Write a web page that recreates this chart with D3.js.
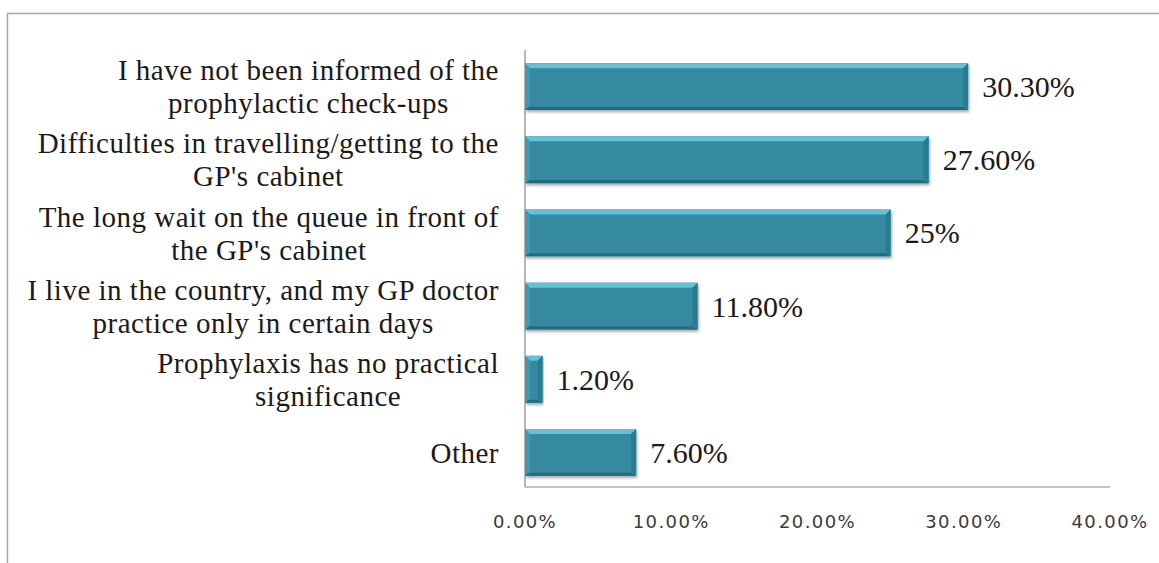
<!DOCTYPE html>
<html>
<head>
<meta charset="utf-8">
<script src="https://cdn.jsdelivr.net/npm/d3@7"></script>
<style>
  body { margin: 0; background: #fff; }
  svg { display: block; }
</style>
</head>
<body>
<svg width="1159" height="563"></svg>
<script>
// reasons for not going to check-ups, top to bottom
var categories = [
    ["I have not been informed of the", "prophylactic check-ups"],
    ["Difficulties in travelling/getting to the", "GP's cabinet"],
    ["The long wait on the queue in front of", "the GP's cabinet"],
    ["I live in the country, and my GP doctor", "practice only in certain days"],
    ["Prophylaxis has no practical", "significance"],
    ["Other"]
];
var values = [30.3, 27.6, 25, 11.8, 1.2, 7.6];
var valueLabels = ["30.30%", "27.60%", "25%", "11.80%", "1.20%", "7.60%"];
var xTicks = [0, 10, 20, 30, 40];

var svg = d3.select("svg");

// outer frame (cut off at right/bottom like the source image)
svg.append("path")
    .attr("d", "M7.5,563 L7.5,13.5 L1159,13.5")
    .attr("fill", "none")
    .attr("stroke", "#a6a6a6")
    .attr("stroke-width", 1.5);

var x = d3.scaleLinear().domain([0, 40]).range([525, 1110]);
var y = d3.scaleBand()
    .domain(d3.range(categories.length))
    .range([50, 489])
    .paddingInner(0.36)
    .paddingOuter(0.18);

var bw = y.bandwidth();

// drop shadow for the bevelled bars
var defs = svg.append("defs");
var f = defs.append("filter").attr("id", "shadow").attr("x", "-5%").attr("y", "-20%").attr("width", "110%").attr("height", "150%");
f.append("feGaussianBlur").attr("in", "SourceAlpha").attr("stdDeviation", 1.5);
f.append("feOffset").attr("dx", 1).attr("dy", 2).attr("result", "b");
f.append("feComponentTransfer").append("feFuncA").attr("type", "linear").attr("slope", 0.35);
var m = f.append("feMerge");
m.append("feMergeNode");
m.append("feMergeNode").attr("in", "SourceGraphic");

var bars = svg.selectAll("g.bar")
    .data(values)
    .enter().append("g")
    .attr("class", "bar")
    .attr("filter", "url(#shadow)");

var bev = 5;
bars.append("rect")
    .attr("x", x(0))
    .attr("y", function(d, i) { return y(i); })
    .attr("width", function(d) { return x(d) - x(0); })
    .attr("height", bw)
    .attr("fill", "#358aa2");

// top bevel
bars.append("path")
    .attr("d", function(d, i) {
        var x0 = x(0), x1 = x(d), y0 = y(i);
        var b = Math.min(bev, (x1 - x0) / 2);
        return "M" + x0 + "," + y0 + "L" + x1 + "," + y0 + "L" + (x1 - b) + "," + (y0 + bev) + "L" + (x0 + b) + "," + (y0 + bev) + "Z";
    })
    .attr("fill", "#62c2da");
// left bevel
bars.append("path")
    .attr("d", function(d, i) {
        var x0 = x(0), x1 = x(d), y0 = y(i), y1 = y0 + bw;
        var b = Math.min(bev, (x1 - x0) / 2);
        return "M" + x0 + "," + y0 + "L" + (x0 + b) + "," + (y0 + bev) + "L" + (x0 + b) + "," + (y1 - bev) + "L" + x0 + "," + y1 + "Z";
    })
    .attr("fill", "#3f98b1");
// right bevel
bars.append("path")
    .attr("d", function(d, i) {
        var x0 = x(0), x1 = x(d), y0 = y(i), y1 = y0 + bw;
        var b = Math.min(bev, (x1 - x0) / 2);
        return "M" + x1 + "," + y0 + "L" + (x1 - b) + "," + (y0 + bev) + "L" + (x1 - b) + "," + (y1 - bev) + "L" + x1 + "," + y1 + "Z";
    })
    .attr("fill", "#2c7a90");
// bottom bevel
bars.append("path")
    .attr("d", function(d, i) {
        var x0 = x(0), x1 = x(d), y1 = y(i) + bw;
        var b = Math.min(bev, (x1 - x0) / 2);
        return "M" + x0 + "," + y1 + "L" + x1 + "," + y1 + "L" + (x1 - b) + "," + (y1 - 3) + "L" + (x0 + b) + "," + (y1 - 3) + "Z";
    })
    .attr("fill", "#25687b");

// value labels
svg.selectAll("text.val")
    .data(values)
    .enter().append("text")
    .attr("class", "val")
    .attr("x", function(d) { return x(d) + 14; })
    .attr("y", function(d, i) { return y(i) + bw / 2; })
    .attr("dy", "0.35em")
    .attr("font-family", "'Liberation Serif', 'Times New Roman', serif")
    .attr("font-size", 30)
    .attr("fill", "#1a1a1a")
    .text(function(d, i) { return valueLabels[i]; });

// axes lines
var axisY = 487;
svg.append("line")
    .attr("x1", x(0)).attr("x2", x(0))
    .attr("y1", 50).attr("y2", axisY)
    .attr("stroke", "#868686").attr("stroke-width", 1.2);
svg.append("line")
    .attr("x1", x(0)).attr("x2", x(40))
    .attr("y1", axisY).attr("y2", axisY)
    .attr("stroke", "#868686").attr("stroke-width", 1.2);

// x tick labels
svg.selectAll("text.tick")
    .data(xTicks)
    .enter().append("text")
    .attr("class", "tick")
    .attr("x", function(d) { return x(d); })
    .attr("y", 522)
    .attr("dy", "0.35em")
    .attr("text-anchor", "middle")
    .attr("font-family", "'DejaVu Sans', Verdana, sans-serif")
    .attr("font-size", 18)
    .attr("letter-spacing", 1.4)
    .attr("fill", "#3a3a3a")
    .text(function(d) { return d3.format(".2f")(d) + "%"; });

// category labels: each block centered, right edge at 499
var lineH = 33;
var labelRight = 499;
var cats = svg.selectAll("g.cat")
    .data(categories)
    .enter().append("g")
    .attr("class", "cat");

cats.each(function(lines, i) {
    var g = d3.select(this);
    var cy = y(i) + bw / 2;
    var top = cy - (lines.length - 1) * lineH / 2;
    var t = g.selectAll("text")
        .data(lines)
        .enter().append("text")
        .attr("y", function(d, j) { return top + j * lineH; })
        .attr("dy", "0.35em")
        .attr("text-anchor", "middle")
        .attr("font-family", "'Liberation Serif', 'Times New Roman', serif")
        .attr("font-size", 29)
        .attr("letter-spacing", 0.5)
        .attr("fill", "#1a1a1a")
        .text(function(d) { return d; });
    var maxW = 0;
    t.each(function() { maxW = Math.max(maxW, this.getComputedTextLength()); });
    t.attr("x", labelRight - maxW / 2);
});
</script>
</body>
</html>
